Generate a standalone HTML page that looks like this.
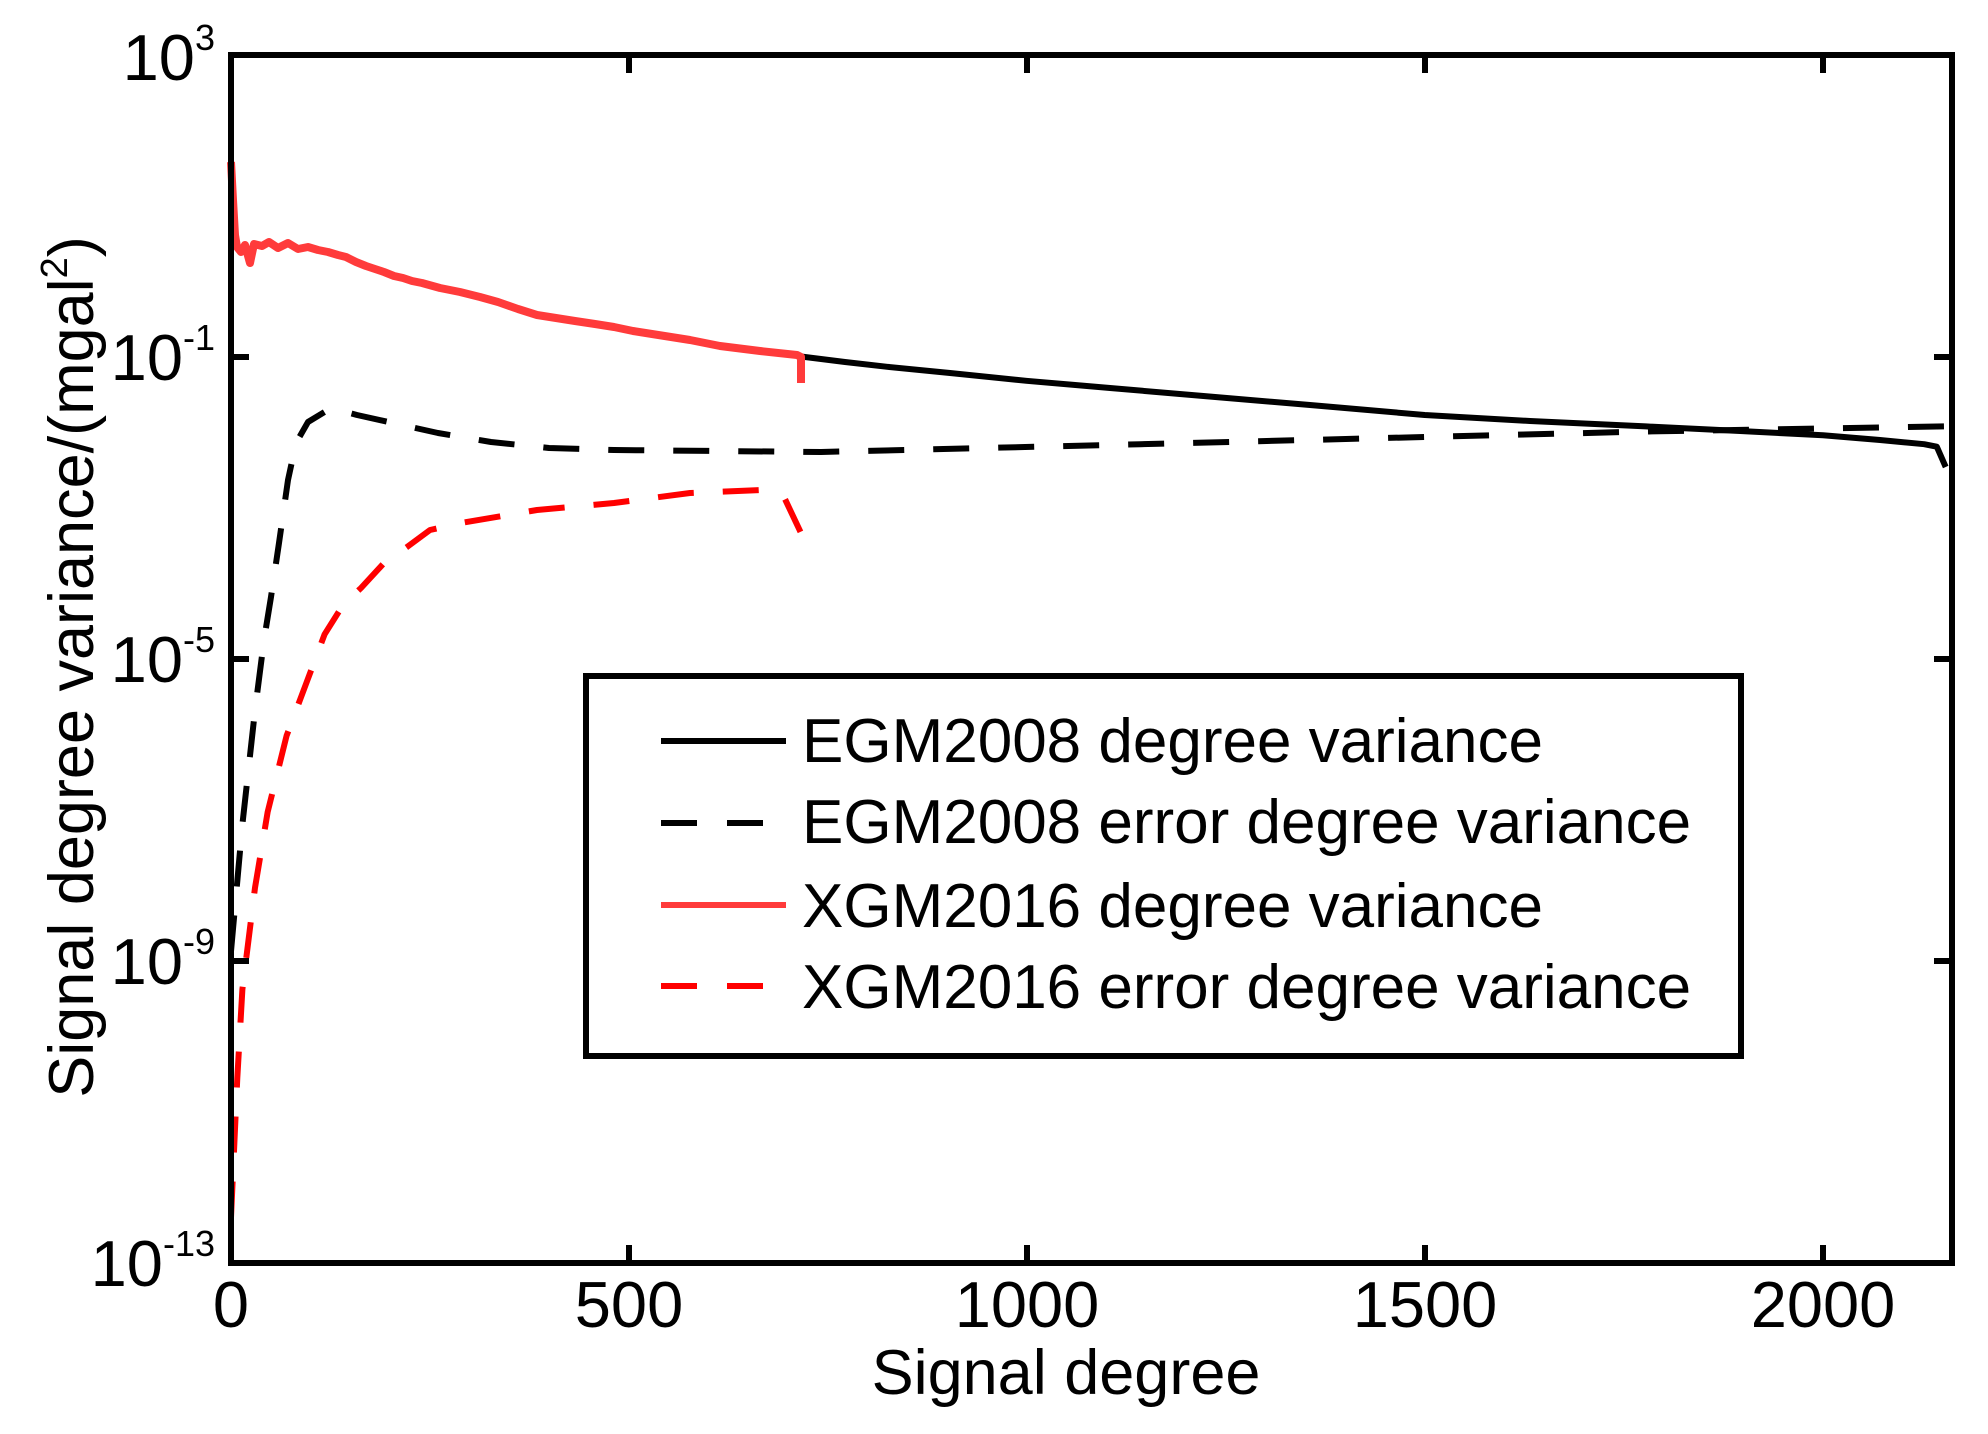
<!DOCTYPE html>
<html><head><meta charset="utf-8"><style>html,body{margin:0;padding:0;background:#fff}svg{display:block}</style></head>
<body>
<svg xmlns="http://www.w3.org/2000/svg" width="1988" height="1434" viewBox="0 0 1988 1434" font-family="Liberation Sans, Arial, sans-serif">
<rect width="1988" height="1434" fill="#fff"/>
<g fill="none" stroke-linejoin="round" stroke-width="6">
<polyline stroke="#000" points="797,356 845,362 887.3,366.8 950,373 1026.4,380.8 1110,388 1203.4,396 1310,405 1424.7,415 1530,421 1646,426.4 1740,431 1823,435.3 1880,440 1924.2,444.2 1936.8,446.7 1945.7,467"/>
<polyline stroke="#000" stroke-dasharray="36,29" points="231,951.2 242.4,824.4 255,710.4 264,640 271,597 279,543 288,480 296,443 308,422 331,408 357,415 438,433 491,442 549,448 614,450 821,452 1140.2,444.2 1393,437.8 1646,431.5 1945.7,426.4"/>
<polyline stroke="#ff3b3b" stroke-width="8" points="231,162 233,200 235,235 237,247 241,252 245,245 250,263 254,244 262,246 269,242 278,248 288,243 298,249 308,247 318,250 328,252 338,255 346,257 356,262 366,266 375,269 384,272 394,276 403,278 412,281 422,283 440,288 460,292 480,297 498,302 518,309 537,315 556,318 575,321 595,324 614,327 633,331 652,334 671,337 690,340 720,346 760,351 797,355 801,357 801,383"/>
<polyline stroke="#ff0000" stroke-dasharray="36,29" points="231,1217.4 237.3,1078 242.4,989.2 255,887.8 267.7,811.8 286.6,735.7 305.6,685 324.6,634.3 343,605 361,588 384,563 407,547 430,530 461,523 537,510 614,503 690,493 763,490 784,497 801,533"/>
</g>
<rect x="231" y="55" width="1721" height="1208" fill="none" stroke="#000" stroke-width="6"/>
<g stroke="#000" stroke-width="6">
<line x1="629" y1="1263" x2="629" y2="1245"/><line x1="1027" y1="1263" x2="1027" y2="1245"/><line x1="1425" y1="1263" x2="1425" y2="1245"/><line x1="1823" y1="1263" x2="1823" y2="1245"/>
<line x1="629" y1="55" x2="629" y2="73"/><line x1="1027" y1="55" x2="1027" y2="73"/><line x1="1425" y1="55" x2="1425" y2="73"/><line x1="1823" y1="55" x2="1823" y2="73"/>
<line x1="231" y1="357" x2="249" y2="357"/><line x1="231" y1="659" x2="249" y2="659"/><line x1="231" y1="961" x2="249" y2="961"/>
<line x1="1952" y1="357" x2="1934" y2="357"/><line x1="1952" y1="659" x2="1934" y2="659"/><line x1="1952" y1="961" x2="1934" y2="961"/>
</g>
<g font-size="65" text-anchor="end" fill="#000">
<text x="215" y="80">10<tspan font-size="36" dy="-30">3</tspan></text>
<text x="215" y="380">10<tspan font-size="36" dy="-30">-1</tspan></text>
<text x="215" y="682">10<tspan font-size="36" dy="-30">-5</tspan></text>
<text x="215" y="984">10<tspan font-size="36" dy="-30">-9</tspan></text>
<text x="215" y="1286">10<tspan font-size="36" dy="-30">-13</tspan></text>
</g>
<g font-size="65" text-anchor="middle" fill="#000">
<text x="231" y="1327">0</text><text x="629" y="1327">500</text><text x="1027" y="1327">1000</text><text x="1425" y="1327">1500</text><text x="1823" y="1327">2000</text>
</g>
<text x="1066" y="1394" font-size="63" text-anchor="middle">Signal degree</text>
<text transform="translate(93,667) rotate(-90)" font-size="63" text-anchor="middle">Signal degree variance/(mgal<tspan font-size="38" dy="-26">2</tspan><tspan dy="26">)</tspan></text>
<rect x="586" y="676" width="1155" height="380" fill="#fff" stroke="#000" stroke-width="6"/>
<g stroke-width="6">
<line x1="661" y1="741" x2="786" y2="741" stroke="#000"/>
<line x1="661" y1="823" x2="786" y2="823" stroke="#000" stroke-dasharray="36,30"/>
<line x1="661" y1="905" x2="786" y2="905" stroke="#ff3b3b"/>
<line x1="661" y1="986" x2="786" y2="986" stroke="#ff0000" stroke-dasharray="36,30"/>
</g>
<g font-size="62" fill="#000">
<text x="802" y="762">EGM2008 degree variance</text>
<text x="802" y="843">EGM2008 error degree variance</text>
<text x="802" y="927">XGM2016 degree variance</text>
<text x="802" y="1008">XGM2016 error degree variance</text>
</g>
</svg>
</body></html>
